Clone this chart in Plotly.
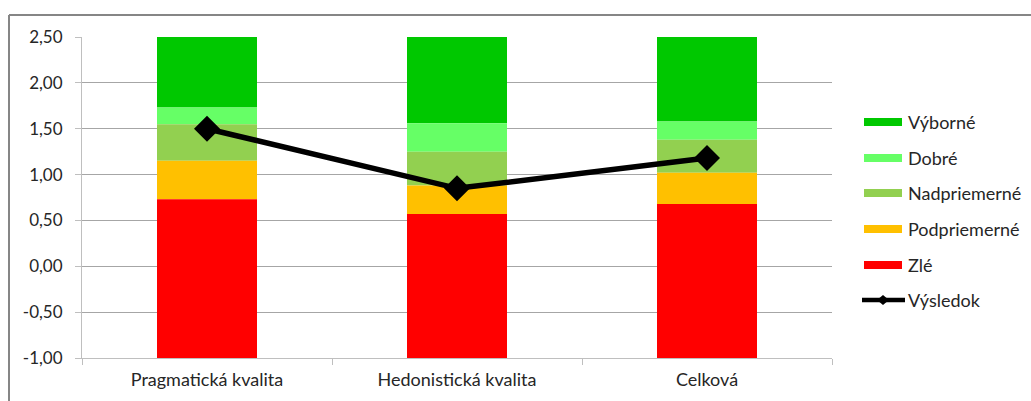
import plotly.graph_objects as go

# Categories and benchmark thresholds (upper bound of each band)
categories = ["Pragmatická kvalita", "Hedonistická kvalita", "Celková"]
axis_min = -1.0
axis_max = 2.5
zle_top = [0.73, 0.57, 0.68]
podpriemerne_top = [1.15, 0.88, 1.02]
nadpriemerne_top = [1.55, 1.25, 1.38]
dobre_top = [1.73, 1.56, 1.58]
vyborne_top = [2.5, 2.5, 2.5]
vysledok = [1.50, 0.85, 1.18]

y_ticks = [-1.0, -0.5, 0.0, 0.5, 1.0, 1.5, 2.0, 2.5]
y_tick_text = ["-1,00", "-0,50", "0,00", "0,50", "1,00", "1,50", "2,00", "2,50"]

band_names = ["Výborné", "Dobré", "Nadpriemerné", "Podpriemerné", "Zlé"]
band_colors = ["#00C800", "#66FF66", "#92D050", "#FFC000", "#FF0000"]
band_upper = [vyborne_top, dobre_top, nadpriemerne_top, podpriemerne_top, zle_top]
band_lower = [dobre_top, nadpriemerne_top, podpriemerne_top, zle_top,
              [axis_min] * len(categories)]
line_name = "Výsledok"

FONT = "Lato"
TEXT = "#262626"
W, H = 1031, 401
ML, MR, MT, MB = 82, 199, 37, 43
PW, PH = W - ML - MR, H - MT - MB


def px_x(x):
    """Pixel column -> paper x."""
    return (x - ML) / PW


def px_y(y):
    """Pixel row -> paper y."""
    return (H - MB - y) / PH


fig = go.Figure()

for name, color, up, low in zip(band_names, band_colors, band_upper, band_lower):
    fig.add_trace(go.Bar(
        x=categories,
        y=[u - l for u, l in zip(up, low)],
        base=low,
        name=name,
        marker=dict(color=color, line=dict(width=0)),
        width=0.4,
        hoverinfo="skip",
    ))

fig.add_trace(go.Scatter(
    x=categories,
    y=vysledok,
    name=line_name,
    mode="lines+markers",
    line=dict(color="black", width=5.5),
    marker=dict(symbol="diamond", size=20, color="black"),
))

fig.update_layout(
    width=W,
    height=H,
    margin=dict(l=ML, r=MR, t=MT, b=MB),
    plot_bgcolor="white",
    paper_bgcolor="white",
    barmode="overlay",
    font=dict(family=FONT, size=17, color=TEXT),
    showlegend=False,
    xaxis=dict(
        showgrid=False,
        showline=True,
        linecolor="#BFBFBF",
        linewidth=1,
        ticks="outside",
        tickson="boundaries",
        ticklen=6,
        tickcolor="#BFBFBF",
        ticklabelstandoff=5,
        tickfont=dict(family=FONT, size=18, color=TEXT),
        zeroline=False,
    ),
    yaxis=dict(
        range=[axis_min, axis_max],
        tickmode="array",
        tickvals=y_ticks,
        ticktext=y_tick_text,
        showgrid=True,
        gridcolor="#A6A6A6",
        gridwidth=1,
        showline=True,
        linecolor="#BFBFBF",
        linewidth=1,
        ticks="outside",
        ticklen=6,
        tickcolor="#BFBFBF",
        ticklabelstandoff=9,
        tickfont=dict(family=FONT, size=17, color=TEXT),
        zeroline=False,
    ),
)

# Legend on the right: wide colour swatches plus the result line
legend_rows = [122, 158, 193, 229, 265, 300]
for row, name, color in zip(legend_rows, band_names, band_colors):
    fig.add_shape(type="rect", xref="paper", yref="paper",
                  x0=px_x(864), x1=px_x(902), y0=px_y(row + 4), y1=px_y(row - 4),
                  fillcolor=color, line=dict(width=0))
    fig.add_annotation(xref="paper", yref="paper", x=px_x(906), y=px_y(row),
                       text=name, showarrow=False, xanchor="left", yanchor="middle",
                       font=dict(family=FONT, size=18, color=TEXT))

row = legend_rows[-1]
fig.add_shape(type="line", xref="paper", yref="paper",
              x0=px_x(862), x1=px_x(905), y0=px_y(row), y1=px_y(row),
              line=dict(color="black", width=4.5))
fig.add_shape(type="path", xref="paper", yref="paper",
              path=(f"M {px_x(877)} {px_y(row)} L {px_x(883)} {px_y(row - 5)} "
                    f"L {px_x(889)} {px_y(row)} L {px_x(883)} {px_y(row + 5)} Z"),
              fillcolor="black", line=dict(width=0))
fig.add_annotation(xref="paper", yref="paper", x=px_x(906), y=px_y(row),
                   text=line_name, showarrow=False, xanchor="left", yanchor="middle",
                   font=dict(family=FONT, size=18, color=TEXT))

# Chart frame (top and left edges)
fig.add_shape(type="line", xref="paper", yref="paper",
              x0=px_x(9), x1=px_x(W + 5), y0=px_y(15), y1=px_y(15),
              line=dict(color="#868686", width=2))
fig.add_shape(type="line", xref="paper", yref="paper",
              x0=px_x(9), x1=px_x(9), y0=px_y(15), y1=px_y(H + 5),
              line=dict(color="#868686", width=2))

fig.write_html("out.html")
